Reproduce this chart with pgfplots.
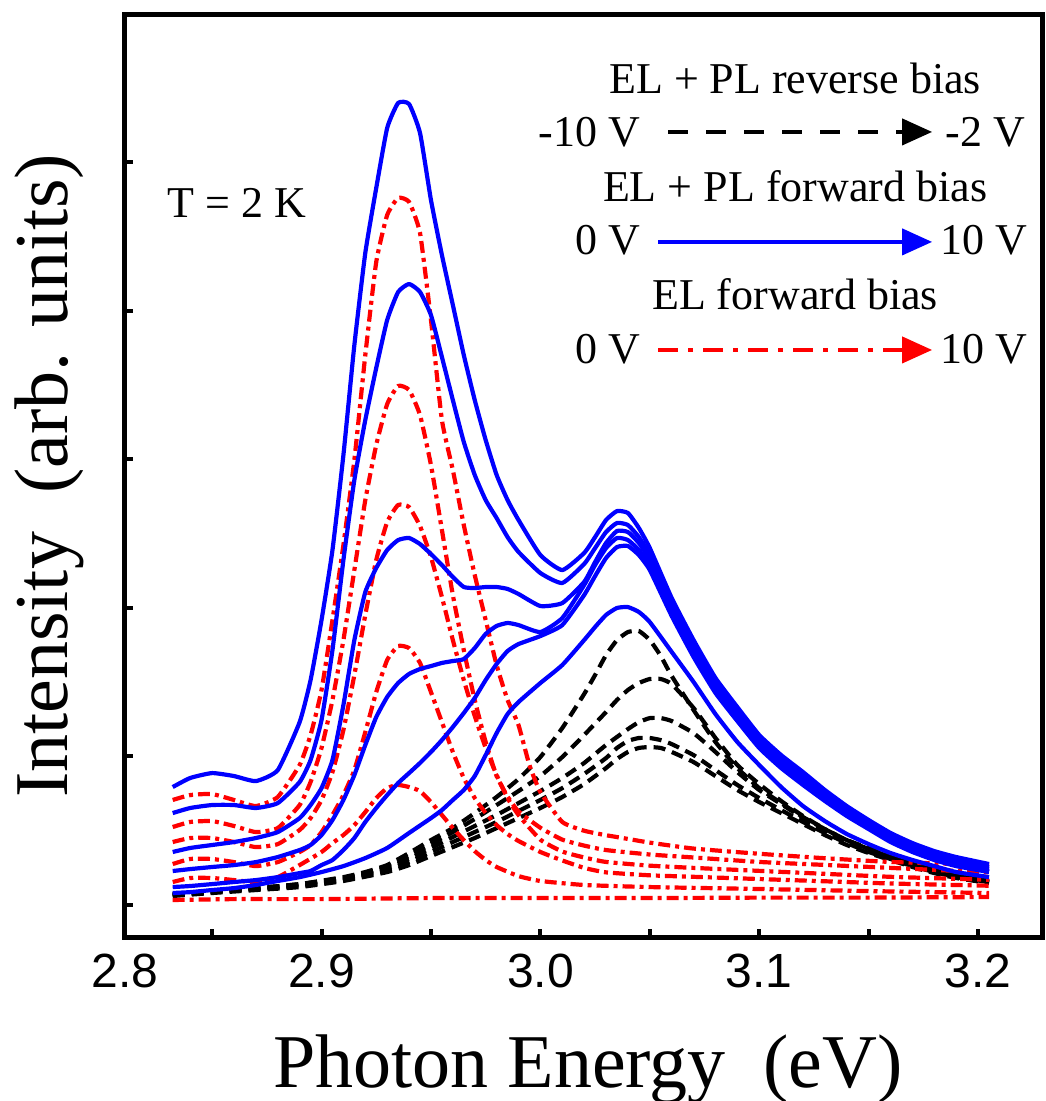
\documentclass[border=0pt]{standalone}
\usepackage{fontspec}
\setmainfont{Liberation Serif}
\setsansfont{Liberation Sans}
\usepackage{pgfplots}
\pgfplotsset{compat=1.18}
\usetikzlibrary{arrows.meta}
\tikzset{
 bl/.style={blue, line width=2.1pt, solid, line join=round, smooth, tension=0.3},
 rd/.style={red, line width=2.1pt, line join=round, smooth, tension=0.3, dash pattern=on 6pt off 2.5pt on 2pt off 2.5pt},
 bk/.style={black, line width=2.1pt, line join=round, smooth, tension=0.3, dash pattern=on 6pt off 3.5pt},
}
\begin{document}
\begin{tikzpicture}
\begin{axis}[
  at={(0,0)}, anchor=south west,
  scale only axis, width=458.5pt, height=461pt,
  xmin=2.8102, xmax=3.2292, ymin=-0.215, ymax=5.989,
  axis line style={line width=2.5pt},
  tick style={line width=2pt, black},
  major tick length=4pt, minor tick length=4pt,
  tick align=inside, tick pos=left,
  xtick={2.8102,2.9,3.0,3.1,3.2}, xticklabels={2.8,2.9,3.0,3.1,3.2},
  minor xtick={2.85,2.95,3.05,3.15},
  ytick={0,1,2,3,4,5}, yticklabels={},
  xticklabel style={font=\sffamily\fontsize{24}{24}\selectfont, yshift=-5pt},
  xlabel={Photon Energy\ \ (eV)}, ylabel={Intensity\ \ (arb. units)},
  label style={font=\fontsize{38}{40}\selectfont},
  xlabel style={at={(axis description cs:0.505,-0.1627)}, anchor=base},
  ylabel style={at={(axis description cs:-0.0622,0.5)}, anchor=base},
  no markers,
]
% ---- black dashed: EL+PL reverse bias ----
\addplot[bk] coordinates {(2.832,0.074)(2.85,0.094)(2.87,0.114)(2.89,0.141)(2.91,0.188)(2.92,0.222)(2.93,0.269)(2.94,0.350)(2.95,0.437)(2.96,0.518)(2.97,0.619)(2.98,0.727)(2.99,0.848)(3.00,0.996)(3.01,1.191)(3.02,1.420)(3.025,1.548)(3.03,1.682)(3.035,1.783)(3.04,1.837)(3.045,1.844)(3.05,1.783)(3.055,1.676)(3.06,1.541)(3.07,1.312)(3.08,1.097)(3.09,0.922)(3.10,0.787)(3.11,0.686)(3.12,0.592)(3.13,0.511)(3.14,0.437)(3.15,0.384)(3.16,0.330)(3.17,0.283)(3.18,0.242)(3.19,0.209)(3.205,0.168)};
\addplot[bk] coordinates {(2.832,0.074)(2.85,0.094)(2.87,0.114)(2.89,0.141)(2.91,0.182)(2.92,0.215)(2.93,0.262)(2.94,0.330)(2.95,0.410)(2.96,0.491)(2.97,0.579)(2.98,0.673)(2.99,0.767)(3.00,0.868)(3.01,0.996)(3.02,1.144)(3.03,1.299)(3.035,1.380)(3.04,1.447)(3.045,1.494)(3.05,1.521)(3.055,1.521)(3.06,1.487)(3.07,1.326)(3.08,1.124)(3.09,0.942)(3.10,0.814)(3.11,0.700)(3.12,0.599)(3.13,0.511)(3.14,0.437)(3.15,0.377)(3.16,0.323)(3.17,0.276)(3.18,0.236)(3.19,0.202)(3.205,0.162)};
\addplot[bk] coordinates {(2.832,0.067)(2.85,0.087)(2.87,0.108)(2.89,0.135)(2.91,0.175)(2.93,0.249)(2.94,0.310)(2.95,0.384)(2.96,0.458)(2.97,0.532)(2.98,0.606)(2.99,0.686)(3.00,0.767)(3.01,0.855)(3.02,0.956)(3.03,1.077)(3.04,1.184)(3.045,1.231)(3.05,1.258)(3.055,1.258)(3.06,1.238)(3.07,1.157)(3.08,1.030)(3.09,0.895)(3.10,0.774)(3.11,0.680)(3.12,0.585)(3.13,0.505)(3.14,0.431)(3.15,0.370)(3.16,0.316)(3.17,0.269)(3.18,0.229)(3.19,0.195)(3.205,0.155)};
\addplot[bk] coordinates {(2.832,0.067)(2.85,0.087)(2.87,0.108)(2.89,0.128)(2.91,0.168)(2.93,0.236)(2.94,0.289)(2.95,0.357)(2.96,0.424)(2.97,0.491)(2.98,0.559)(2.99,0.633)(3.00,0.707)(3.01,0.787)(3.02,0.882)(3.03,0.989)(3.035,1.057)(3.04,1.104)(3.045,1.124)(3.05,1.124)(3.055,1.110)(3.06,1.083)(3.07,1.009)(3.08,0.908)(3.09,0.808)(3.10,0.720)(3.11,0.639)(3.12,0.559)(3.13,0.485)(3.14,0.417)(3.15,0.357)(3.16,0.310)(3.17,0.262)(3.18,0.222)(3.19,0.188)(3.205,0.155)};
\addplot[bk] coordinates {(2.832,0.061)(2.85,0.081)(2.87,0.101)(2.89,0.121)(2.91,0.162)(2.93,0.222)(2.94,0.269)(2.95,0.330)(2.96,0.390)(2.97,0.451)(2.98,0.518)(2.99,0.585)(3.00,0.653)(3.01,0.727)(3.02,0.814)(3.03,0.922)(3.035,0.983)(3.04,1.030)(3.045,1.057)(3.05,1.063)(3.055,1.057)(3.06,1.030)(3.07,0.962)(3.08,0.868)(3.09,0.774)(3.10,0.693)(3.11,0.619)(3.12,0.545)(3.13,0.471)(3.14,0.404)(3.15,0.350)(3.16,0.303)(3.17,0.256)(3.18,0.215)(3.19,0.182)(3.205,0.148)};
% ---- red dash-dot: EL forward bias ----
\addplot[rd] coordinates {(2.832,0.707)(2.84,0.740)(2.85,0.747)(2.86,0.707)(2.87,0.666)(2.88,0.727)(2.89,0.942)(2.895,1.144)(2.90,1.447)(2.905,1.918)(2.91,2.423)(2.915,2.995)(2.92,3.701)(2.925,4.327)(2.93,4.643)(2.935,4.758)(2.94,4.731)(2.945,4.522)(2.95,3.937)(2.955,3.264)(2.96,2.927)(2.965,2.557)(2.97,2.221)(2.975,1.918)(2.98,1.615)(2.985,1.380)(2.99,1.211)(2.995,0.942)(3.00,0.760)(3.01,0.559)(3.02,0.500)(3.03,0.470)(3.04,0.445)(3.05,0.420)(3.07,0.380)(3.10,0.345)(3.13,0.315)(3.16,0.290)(3.205,0.270)};
\addplot[rd] coordinates {(2.832,0.525)(2.84,0.559)(2.85,0.565)(2.86,0.532)(2.87,0.491)(2.88,0.518)(2.89,0.673)(2.895,0.828)(2.90,1.057)(2.905,1.380)(2.91,1.783)(2.915,2.254)(2.92,2.725)(2.925,3.096)(2.93,3.371)(2.935,3.493)(2.94,3.466)(2.945,3.297)(2.95,2.961)(2.955,2.524)(2.96,2.086)(2.965,1.716)(2.97,1.380)(2.975,1.097)(2.98,0.868)(2.985,0.730)(2.99,0.630)(3.00,0.520)(3.01,0.440)(3.02,0.400)(3.03,0.370)(3.05,0.340)(3.07,0.320)(3.10,0.290)(3.13,0.270)(3.16,0.250)(3.205,0.220)};
\addplot[rd] coordinates {(2.832,0.424)(2.84,0.451)(2.85,0.451)(2.86,0.424)(2.87,0.390)(2.88,0.410)(2.89,0.505)(2.895,0.585)(2.90,0.707)(2.905,0.895)(2.91,1.178)(2.915,1.548)(2.92,1.952)(2.925,2.322)(2.93,2.577)(2.935,2.692)(2.94,2.678)(2.945,2.550)(2.95,2.342)(2.955,2.073)(2.96,1.783)(2.965,1.514)(2.97,1.272)(2.975,1.057)(2.98,0.875)(2.985,0.720)(2.99,0.606)(3.00,0.440)(3.01,0.360)(3.02,0.320)(3.03,0.290)(3.05,0.265)(3.07,0.250)(3.10,0.230)(3.13,0.210)(3.16,0.190)(3.205,0.170)};
\addplot[rd] coordinates {(2.832,0.276)(2.84,0.310)(2.85,0.310)(2.86,0.289)(2.87,0.262)(2.88,0.289)(2.89,0.357)(2.895,0.404)(2.90,0.491)(2.905,0.606)(2.91,0.740)(2.915,0.908)(2.92,1.164)(2.925,1.433)(2.93,1.649)(2.935,1.743)(2.94,1.729)(2.945,1.629)(2.95,1.433)(2.955,1.231)(2.96,1.030)(2.965,0.855)(2.97,0.720)(2.975,0.619)(2.98,0.538)(2.985,0.478)(2.99,0.431)(3.00,0.357)(3.01,0.300)(3.02,0.250)(3.03,0.220)(3.05,0.200)(3.07,0.190)(3.10,0.175)(3.13,0.160)(3.16,0.145)(3.205,0.130)};
\addplot[rd] coordinates {(2.832,0.155)(2.84,0.182)(2.85,0.182)(2.86,0.168)(2.87,0.155)(2.88,0.188)(2.89,0.269)(2.90,0.357)(2.905,0.417)(2.91,0.471)(2.915,0.538)(2.92,0.626)(2.925,0.720)(2.93,0.787)(2.935,0.808)(2.94,0.794)(2.945,0.767)(2.95,0.693)(2.955,0.606)(2.96,0.518)(2.965,0.437)(2.97,0.363)(2.975,0.303)(2.98,0.256)(2.99,0.195)(3.00,0.162)(3.02,0.135)(3.05,0.121)(3.10,0.108)(3.15,0.094)(3.205,0.081)};
\addplot[rd] coordinates {(2.832,0.034)(2.86,0.040)(2.90,0.040)(2.95,0.047)(3.00,0.047)(3.05,0.047)(3.10,0.050)(3.15,0.050)(3.205,0.054)};
% ---- blue solid: EL+PL forward bias ----
\addplot[bl] coordinates {(2.832,0.081)(2.84,0.087)(2.85,0.101)(2.86,0.114)(2.87,0.135)(2.88,0.162)(2.89,0.188)(2.90,0.222)(2.91,0.262)(2.92,0.316)(2.93,0.384)(2.94,0.485)(2.95,0.585)(2.955,0.639)(2.96,0.707)(2.965,0.774)(2.97,0.868)(2.975,1.009)(2.98,1.157)(2.985,1.285)(2.99,1.366)(3.00,1.494)(3.01,1.615)(3.02,1.783)(3.025,1.871)(3.03,1.952)(3.035,1.999)(3.04,2.005)(3.045,1.972)(3.05,1.904)(3.06,1.703)(3.07,1.501)(3.08,1.285)(3.09,1.097)(3.10,0.942)(3.11,0.794)(3.12,0.666)(3.13,0.565)(3.14,0.478)(3.15,0.410)(3.16,0.350)(3.17,0.303)(3.18,0.262)(3.19,0.222)(3.205,0.188)};
\addplot[bl] coordinates {(2.832,0.121)(2.84,0.128)(2.85,0.141)(2.86,0.155)(2.87,0.168)(2.88,0.188)(2.89,0.215)(2.895,0.229)(2.90,0.269)(2.905,0.303)(2.91,0.370)(2.915,0.451)(2.92,0.559)(2.925,0.653)(2.93,0.740)(2.935,0.821)(2.94,0.888)(2.945,0.956)(2.95,1.030)(2.955,1.110)(2.96,1.198)(2.965,1.292)(2.97,1.393)(2.975,1.514)(2.98,1.622)(2.985,1.709)(2.99,1.756)(3.00,1.810)(3.01,1.884)(3.02,2.086)(3.025,2.214)(3.03,2.335)(3.035,2.409)(3.04,2.416)(3.045,2.355)(3.05,2.254)(3.06,1.945)(3.07,1.669)(3.08,1.427)(3.09,1.238)(3.10,1.057)(3.11,0.922)(3.12,0.808)(3.13,0.700)(3.14,0.599)(3.15,0.511)(3.16,0.424)(3.17,0.357)(3.18,0.303)(3.19,0.262)(3.205,0.222)};
\addplot[bl] coordinates {(2.832,0.229)(2.84,0.242)(2.85,0.256)(2.86,0.269)(2.87,0.289)(2.88,0.323)(2.89,0.370)(2.895,0.404)(2.90,0.471)(2.905,0.572)(2.91,0.707)(2.915,0.875)(2.92,1.077)(2.925,1.265)(2.93,1.400)(2.935,1.494)(2.94,1.555)(2.945,1.588)(2.95,1.608)(2.955,1.629)(2.96,1.642)(2.965,1.655)(2.97,1.729)(2.975,1.824)(2.98,1.878)(2.985,1.898)(2.99,1.884)(3.00,1.837)(3.01,1.931)(3.02,2.153)(3.025,2.288)(3.03,2.402)(3.035,2.470)(3.04,2.456)(3.045,2.389)(3.05,2.288)(3.06,1.972)(3.07,1.689)(3.08,1.447)(3.09,1.258)(3.10,1.077)(3.11,0.942)(3.12,0.828)(3.13,0.713)(3.14,0.612)(3.15,0.525)(3.16,0.437)(3.17,0.370)(3.18,0.316)(3.19,0.276)(3.205,0.229)};
\addplot[bl] coordinates {(2.832,0.357)(2.84,0.384)(2.85,0.404)(2.86,0.424)(2.87,0.451)(2.88,0.491)(2.89,0.585)(2.895,0.673)(2.90,0.787)(2.905,0.976)(2.91,1.346)(2.915,1.783)(2.92,2.106)(2.925,2.268)(2.93,2.389)(2.935,2.456)(2.94,2.470)(2.945,2.429)(2.95,2.362)(2.955,2.288)(2.96,2.207)(2.965,2.140)(2.97,2.133)(2.975,2.140)(2.98,2.140)(2.985,2.127)(2.99,2.093)(3.00,2.012)(3.01,2.032)(3.02,2.174)(3.025,2.308)(3.03,2.436)(3.035,2.517)(3.04,2.510)(3.045,2.436)(3.05,2.322)(3.06,1.999)(3.07,1.716)(3.08,1.467)(3.09,1.279)(3.10,1.097)(3.11,0.962)(3.12,0.848)(3.13,0.734)(3.14,0.633)(3.15,0.538)(3.16,0.451)(3.17,0.384)(3.18,0.330)(3.19,0.289)(3.205,0.242)};
\addplot[bl] coordinates {(2.832,0.619)(2.84,0.653)(2.85,0.673)(2.86,0.673)(2.87,0.653)(2.88,0.686)(2.89,0.828)(2.895,0.976)(2.90,1.245)(2.905,1.716)(2.91,2.322)(2.915,2.860)(2.92,3.264)(2.925,3.614)(2.93,3.937)(2.935,4.125)(2.94,4.179)(2.945,4.125)(2.95,3.970)(2.955,3.688)(2.96,3.398)(2.965,3.116)(2.97,2.894)(2.975,2.725)(2.98,2.604)(2.985,2.476)(2.99,2.376)(3.00,2.234)(3.01,2.167)(3.02,2.295)(3.025,2.402)(3.03,2.510)(3.035,2.571)(3.04,2.557)(3.045,2.476)(3.05,2.355)(3.06,2.032)(3.07,1.750)(3.08,1.501)(3.09,1.306)(3.10,1.117)(3.11,0.983)(3.12,0.868)(3.13,0.754)(3.14,0.646)(3.15,0.552)(3.16,0.464)(3.17,0.397)(3.18,0.343)(3.19,0.303)(3.205,0.256)};
\addplot[bl] coordinates {(2.832,0.794)(2.84,0.855)(2.85,0.888)(2.86,0.868)(2.87,0.834)(2.88,0.908)(2.89,1.231)(2.895,1.514)(2.90,1.918)(2.905,2.389)(2.91,3.028)(2.915,3.768)(2.92,4.388)(2.925,4.825)(2.93,5.229)(2.935,5.397)(2.94,5.390)(2.945,5.195)(2.95,4.744)(2.955,4.374)(2.96,4.038)(2.965,3.701)(2.97,3.398)(2.975,3.129)(2.98,2.894)(2.985,2.725)(2.99,2.591)(3.00,2.355)(3.01,2.254)(3.02,2.369)(3.025,2.476)(3.03,2.591)(3.035,2.651)(3.04,2.638)(3.045,2.537)(3.05,2.402)(3.06,2.066)(3.07,1.783)(3.08,1.528)(3.09,1.332)(3.10,1.144)(3.11,1.009)(3.12,0.895)(3.13,0.774)(3.14,0.666)(3.15,0.572)(3.16,0.485)(3.17,0.417)(3.18,0.363)(3.19,0.323)(3.205,0.276)};
% ---- annotations ----
\begin{scope}[every node/.style={font=\fontsize{22}{24}\selectfont, inner sep=0pt}]
\node[anchor=base] at (axis cs:2.8614,4.623) {T = 2 K};
\node[anchor=base] at (axis cs:3.1164,5.464) {EL + PL reverse bias};
\node[anchor=base east] at (axis cs:3.0456,5.101) {-10 V};
\node[anchor=base west] at (axis cs:3.1849,5.101) {-2 V};
\node[anchor=base] at (axis cs:3.1164,4.731) {EL + PL forward bias};
\node[anchor=base east] at (axis cs:3.0456,4.374) {0 V};
\node[anchor=base west] at (axis cs:3.1826,4.374) {10 V};
\node[anchor=base] at (axis cs:3.1164,4.004) {EL forward bias};
\node[anchor=base east] at (axis cs:3.0456,3.641) {0 V};
\node[anchor=base west] at (axis cs:3.1826,3.641) {10 V};
\end{scope}
\draw[black, line width=2pt, dash pattern=on 10pt off 9pt, -{Triangle[length=15pt,width=13pt]}] (axis cs:3.0584,5.202) -- (axis cs:3.179,5.202);
\draw[blue, line width=2pt, -{Triangle[length=15pt,width=13pt]}] (axis cs:3.0538,4.462) -- (axis cs:3.179,4.462);
\draw[red, line width=2pt, dash pattern=on 10pt off 5pt on 2.5pt off 5pt, -{Triangle[length=15pt,width=13pt]}] (axis cs:3.0538,3.735) -- (axis cs:3.179,3.735);
\end{axis}
\pgfresetboundingbox
\path[use as bounding box] (-62.5pt,-82pt) rectangle (460pt,468.5pt);
\end{tikzpicture}
\end{document}
